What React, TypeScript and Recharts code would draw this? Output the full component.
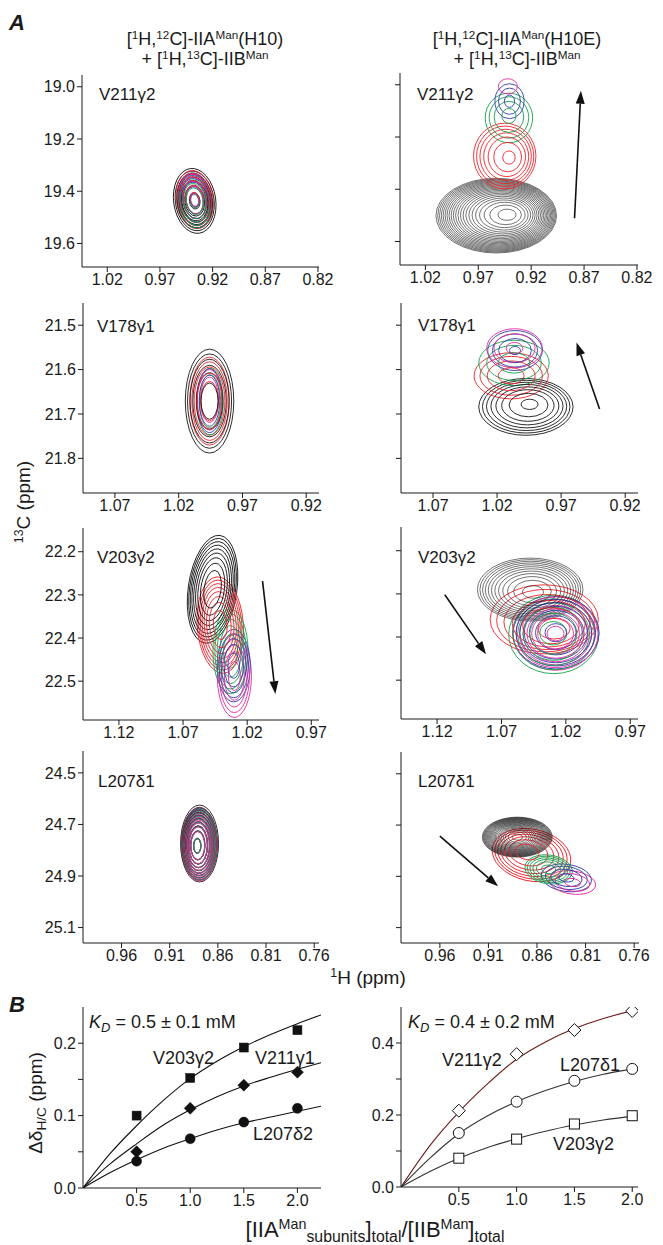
import React from 'react'
import { ComposedChart, XAxis, YAxis, ReferenceArea, ReferenceLine, Line, Scatter } from 'recharts'

const FONT = '"Liberation Sans", Arial, Helvetica, sans-serif'
const INK = '#1a1a1a'
// titration steps: 0, 0.5, 1.0, 1.5, 2.0 equivalents
const STEP_COLORS = ['#151515', '#f0222a', '#15a04c', '#2f3ca8', '#e02a9e']

type Peak = { s: number; h: number; c: number; wh: number; wc: number; n: number; inner?: number; tilt?: number; ch?: number; cc?: number }

// ---- panel A peaks (1H ppm, 13C ppm, half widths, contour count) ----
const V211_H10: Peak[] = [
  { s: 0, h: 0.937, c: 19.437, wh: 0.020, wc: 0.125, n: 7, tilt: -8 },
  { s: 1, h: 0.937, c: 19.432, wh: 0.0175, wc: 0.112, n: 6, tilt: -8 },
  { s: 2, h: 0.937, c: 19.438, wh: 0.0158, wc: 0.103, n: 6, tilt: -8 },
  { s: 3, h: 0.937, c: 19.435, wh: 0.0165, wc: 0.106, n: 6, tilt: -8 },
  { s: 4, h: 0.937, c: 19.433, wh: 0.0148, wc: 0.098, n: 5, tilt: -8 },
]
const V211_H10E: Peak[] = [
  { s: 0, h: 0.953, c: 19.501, wh: 0.057, wc: 0.143, n: 22, inner: 0.15, ch: 0.941, cc: 19.497 },
  { s: 1, h: 0.945, c: 19.273, wh: 0.0295, wc: 0.126, n: 7, inner: 0.2, ch: 0.940, cc: 19.28 },
  { s: 2, h: 0.941, c: 19.127, wh: 0.0224, wc: 0.095, n: 4, inner: 0.3, cc: 19.116 },
  { s: 3, h: 0.9405, c: 19.063, wh: 0.0138, wc: 0.067, n: 3, inner: 0.35 },
  { s: 4, h: 0.942, c: 19.006, wh: 0.009, wc: 0.029, n: 1 },
]
const V178_H10: Peak[] = [
  { s: 0, h: 0.9958, c: 21.671, wh: 0.019, wc: 0.117, n: 6, inner: 0.35 },
  { s: 1, h: 0.9958, c: 21.671, wh: 0.0155, wc: 0.099, n: 5, inner: 0.45 },
  { s: 2, h: 0.9955, c: 21.672, wh: 0.0105, wc: 0.075, n: 2, inner: 0.8 },
  { s: 3, h: 0.9958, c: 21.670, wh: 0.0100, wc: 0.072, n: 2, inner: 0.8 },
  { s: 4, h: 0.9958, c: 21.668, wh: 0.0095, wc: 0.068, n: 2, inner: 0.75 },
]
const V178_H10E: Peak[] = [
  { s: 0, h: 0.9975, c: 21.684, wh: 0.0368, wc: 0.064, n: 8, inner: 0.18, ch: 0.994, cc: 21.677 },
  { s: 1, h: 1.009, c: 21.614, wh: 0.029, wc: 0.052, n: 4, inner: 0.35 },
  { s: 2, h: 1.0068, c: 21.585, wh: 0.0275, wc: 0.051, n: 3, inner: 0.45 },
  { s: 3, h: 1.006, c: 21.557, wh: 0.0213, wc: 0.045, n: 4, inner: 0.2 },
  { s: 4, h: 1.0064, c: 21.552, wh: 0.0217, wc: 0.044, n: 3, inner: 0.3 },
]
const V203_H10: Peak[] = [
  { s: 0, h: 1.047, c: 22.287, wh: 0.019, wc: 0.126, n: 9, inner: 0.35, tilt: 8 },
  { s: 1, h: 1.041, c: 22.370, wh: 0.018, wc: 0.112, n: 8, inner: 0.3, tilt: -4 },
  { s: 2, h: 1.033, c: 22.431, wh: 0.0137, wc: 0.098, n: 5, inner: 0.4 },
  { s: 3, h: 1.0305, c: 22.464, wh: 0.0129, wc: 0.084, n: 5, inner: 0.35 },
  { s: 4, h: 1.030, c: 22.488, wh: 0.0133, wc: 0.096, n: 5, inner: 0.35 },
]
const V203_H10E: Peak[] = [
  { s: 0, h: 1.0477, c: 22.290, wh: 0.041, wc: 0.073, n: 12, inner: 0.2, ch: 1.045, cc: 22.297 },
  { s: 1, h: 1.0368, c: 22.359, wh: 0.042, wc: 0.080, n: 6, inner: 0.3, ch: 1.026, cc: 22.39 },
  { s: 2, h: 1.0294, c: 22.394, wh: 0.035, wc: 0.091, n: 6, inner: 0.3, ch: 1.03, cc: 22.39 },
  { s: 3, h: 1.0278, c: 22.390, wh: 0.0336, wc: 0.084, n: 7, inner: 0.25 },
  { s: 4, h: 1.028, c: 22.392, wh: 0.033, wc: 0.085, n: 8, inner: 0.2 },
]
const L207_H10: Peak[] = [
  { s: 0, h: 0.879, c: 24.774, wh: 0.0197, wc: 0.149, n: 10, inner: 0.2, ch: 0.882, cc: 24.785 },
  { s: 1, h: 0.879, c: 24.776, wh: 0.0185, wc: 0.140, n: 9, inner: 0.2, ch: 0.882, cc: 24.785 },
  { s: 2, h: 0.879, c: 24.778, wh: 0.018, wc: 0.138, n: 9, inner: 0.2, ch: 0.882, cc: 24.785 },
  { s: 3, h: 0.879, c: 24.776, wh: 0.0182, wc: 0.139, n: 9, inner: 0.2, ch: 0.882, cc: 24.785 },
  { s: 4, h: 0.879, c: 24.778, wh: 0.0185, wc: 0.142, n: 10, inner: 0.2, ch: 0.882, cc: 24.785 },
]
const L207_H10E: Peak[] = [
  { s: 0, h: 0.8803, c: 24.747, wh: 0.036, wc: 0.078, n: 22, inner: 0.15 },
  { s: 1, h: 0.8657, c: 24.817, wh: 0.041, wc: 0.101, n: 7, inner: 0.3, tilt: 12, ch: 0.872, cc: 24.80 },
  { s: 2, h: 0.848, c: 24.873, wh: 0.0245, wc: 0.056, n: 6, inner: 0.3, tilt: 8 },
  { s: 3, h: 0.8298, c: 24.906, wh: 0.026, wc: 0.053, n: 4, inner: 0.3, tilt: 8 },
  { s: 4, h: 0.8235, c: 24.924, wh: 0.024, wc: 0.045, n: 3, inner: 0.35, tilt: 8 },
]

// arrows: [1H from, 13C from, 1H to, 13C to]
const ARROW_V211 = [0.879, 19.511, 0.873, 19.023]
const ARROW_V178 = [0.940, 21.689, 0.958, 21.539]
const ARROW_V203_H10 = [1.008, 22.268, 0.998, 22.53]
const ARROW_V203_H10E = [1.114, 22.302, 1.082, 22.44]
const ARROW_L207 = [0.960, 24.743, 0.900, 24.939]

const TICKS_H_1 = [1.02, 0.97, 0.92, 0.87, 0.82]
const TICKS_H_2 = [1.07, 1.02, 0.97, 0.92]
const TICKS_H_3 = [1.12, 1.07, 1.02, 0.97]
const TICKS_H_4 = [0.96, 0.91, 0.86, 0.81, 0.76]
const TICKS_C_1 = [19.0, 19.2, 19.4, 19.6]
const TICKS_C_2 = [21.5, 21.6, 21.7, 21.8]
const TICKS_C_3 = [22.2, 22.3, 22.4, 22.5]
const TICKS_C_4 = [24.5, 24.7, 24.9, 25.1]

// ---- panel B titration ----
const RATIO = [0.5, 1.0, 1.5, 2.0]
const H10_V203 = [0.100, 0.152, 0.194, 0.218]
const H10_V211 = [0.050, 0.110, 0.142, 0.160]
const H10_L207 = [0.037, 0.068, 0.091, 0.110]
const FIT_X_H10 = [0, 0.25, 0.5, 0.75, 1.0, 1.25, 1.5, 1.75, 2.0, 2.22]
const FIT_H10_V203 = [0, 0.047, 0.086, 0.121, 0.151, 0.175, 0.195, 0.212, 0.227, 0.239]
const FIT_H10_V211 = [0, 0.033, 0.061, 0.087, 0.108, 0.126, 0.141, 0.153, 0.164, 0.173]
const FIT_H10_L207 = [0, 0.021, 0.039, 0.055, 0.068, 0.080, 0.090, 0.098, 0.106, 0.113]

const H10E_V211 = [0.212, 0.369, 0.436, 0.489]
const H10E_L207 = [0.150, 0.237, 0.295, 0.328]
const H10E_V203 = [0.080, 0.133, 0.175, 0.198]
const FIT_X_H10E = [0, 0.25, 0.5, 0.75, 1.0, 1.25, 1.5, 1.75, 2.0, 2.05]
const FIT_H10E_V211 = [0, 0.115, 0.208, 0.287, 0.355, 0.403, 0.440, 0.468, 0.489, 0.492]
const FIT_H10E_L207 = [0, 0.080, 0.148, 0.198, 0.237, 0.268, 0.293, 0.313, 0.328, 0.331]
const FIT_H10E_V203 = [0, 0.043, 0.080, 0.110, 0.134, 0.155, 0.172, 0.186, 0.197, 0.199]

const zip = (xs: number[], ys: number[]) => xs.map((x, i) => ({ x, y: ys[i] }))

type Level = { h: number; c: number; wh: number; wc: number; s: number; tilt: number; sw: number }

function levels(p: Peak): Level[] {
  const inner = p.inner ?? 0.25
  const ch = p.ch ?? p.h, cc = p.cc ?? p.c
  const out: Level[] = []
  for (let k = 0; k < p.n; k++) {
    const f = p.n === 1 ? 1 : Math.sqrt(1 - (k / (p.n - 1)) * (1 - inner * inner))
    out.push({ h: ch + f * (p.h - ch), c: cc + f * (p.c - cc), wh: p.wh * f, wc: p.wc * f, s: p.s, tilt: p.tilt ?? 0, sw: p.n >= 12 ? 0.6 : 0.9 })
  }
  return out
}

// draw every contour, largest first, so nested colours interleave like the spectrum overlay
function allRings(peaks: Peak[]) {
  return peaks.flatMap(levels).sort((a, b) => b.wh * b.wc - a.wh * a.wc)
}

const ring = (tilt: number, color: string, sw: number) => (p: any) => {
  const cx = p.x + p.width / 2, cy = p.y + p.height / 2
  return (
    <g clipPath={p.clipPath}>
      <ellipse cx={cx} cy={cy} rx={Math.abs(p.width) / 2} ry={Math.abs(p.height) / 2} fill="none"
        stroke={color} strokeWidth={sw} transform={`rotate(${tilt} ${cx} ${cy})`} />
    </g>
  )
}

const arrowShape = (p: any) => {
  const { x1, y1, x2, y2 } = p
  const dx = x2 - x1, dy = y2 - y1, len = Math.hypot(dx, dy) || 1
  const ux = dx / len, uy = dy / len
  const hl = 13, hw = 4.5
  const bx = x2 - ux * hl, by = y2 - uy * hl
  return (
    <g>
      <line x1={x1} y1={y1} x2={bx} y2={by} stroke="#111" strokeWidth={1.6} />
      <polygon points={`${x2},${y2} ${bx - uy * hw},${by + ux * hw} ${bx + uy * hw},${by - ux * hw}`} fill="#111" />
    </g>
  )
}

const YW = 50, MT = 8, MR = 20, XH = 30
const tickStyle = { fontSize: 16, fill: INK }

function FrameAxes() {
  return [
    <XAxis key="ft" xAxisId="top" orientation="top" type="number" domain={[0, 1]} height={0} tick={false} tickLine={false} stroke={INK} />,
    <YAxis key="fr" yAxisId="right" orientation="right" type="number" domain={[0, 1]} width={0} tick={false} tickLine={false} stroke={INK} />,
  ]
}

interface NmrProps {
  frame: number[]
  xDomain: number[]
  yDomain: number[]
  xTicks: number[]
  yTicks: number[]
  peaks: Peak[]
  arrow?: number[]
  yLabels?: boolean
}

function NmrPanel({ frame, xDomain, yDomain, xTicks, yTicks, peaks, arrow, yLabels }: NmrProps) {
  const [fx, fy, fw, fh] = frame
  return (
    <div style={{ position: 'absolute', left: fx - YW, top: fy - MT }}>
      <ComposedChart width={YW + fw + MR} height={MT + fh + XH} margin={{ top: MT, right: MR, bottom: 0, left: 0 }}>
        <XAxis type="number" dataKey="h" domain={xDomain} reversed ticks={xTicks} interval={0} allowDataOverflow
          tickFormatter={(v: number) => v.toFixed(2)} height={XH} tickSize={5} tick={tickStyle} stroke={INK} />
        <YAxis type="number" dataKey="c" domain={yDomain} reversed ticks={yTicks} interval={0} allowDataOverflow
          tickFormatter={(v: number) => (yLabels ? v.toFixed(1) : '')} width={YW} tickSize={5} tick={tickStyle} stroke={INK} />
        {FrameAxes()}
        {allRings(peaks).map((lv, k) => (
          <ReferenceArea key={k} x1={lv.h - lv.wh} x2={lv.h + lv.wh} y1={lv.c - lv.wc} y2={lv.c + lv.wc}
            ifOverflow="hidden" shape={ring(lv.tilt, STEP_COLORS[lv.s], lv.sw)} />
        ))}
        {arrow && (
          <ReferenceLine segment={[{ x: arrow[0], y: arrow[1] }, { x: arrow[2], y: arrow[3] }]} ifOverflow="visible" shape={arrowShape} />
        )}
      </ComposedChart>
    </div>
  )
}

const marker = (kind: string, open: boolean) => (p: any) => {
  const { cx, cy } = p
  const st = { fill: open ? '#fff' : '#111', stroke: '#111', strokeWidth: open ? 1 : 0.5 }
  if (kind === 'square') {
    const s = open ? 5 : 4.5
    return <rect x={cx - s} y={cy - s} width={2 * s} height={2 * s} {...st} />
  }
  if (kind === 'diamond') {
    const s = open ? 6.5 : 6
    return <polygon points={`${cx},${cy - s} ${cx + s},${cy} ${cx},${cy + s} ${cx - s},${cy}`} {...st} />
  }
  return <circle cx={cx} cy={cy} r={open ? 5.5 : 5} {...st} />
}

interface Curve { fit: { x: number; y: number }[]; pts: { x: number; y: number }[]; kind: string; color: string }

function BindPanel({ frame, xMax, yMax, yTicks, major, curves, open }: { frame: number[]; xMax: number; yMax: number; yTicks: number[]; major: number; curves: Curve[]; open: boolean }) {
  const [fx, fy, fw, fh] = frame
  return (
    <div style={{ position: 'absolute', left: fx - YW, top: fy - MT }}>
      <ComposedChart width={YW + fw + MR} height={MT + fh + XH} margin={{ top: MT, right: MR, bottom: 0, left: 0 }}>
        <XAxis type="number" dataKey="x" domain={[0, xMax]} ticks={RATIO} interval={0} allowDataOverflow
          tickFormatter={(v: number) => v.toFixed(1)} height={XH} tickSize={5} tick={tickStyle} stroke={INK} />
        <YAxis type="number" dataKey="y" domain={[0, yMax]} ticks={yTicks} interval={0} allowDataOverflow
          tickFormatter={(v: number) => (Math.abs(Math.round(v * 100)) % Math.round(major * 100) === 0 ? v.toFixed(1) : '')}
          width={YW} tickSize={5} tick={tickStyle} stroke={INK} />
        {FrameAxes()}
        {curves.map((c, i) => (
          <Line key={`l${i}`} data={c.fit} dataKey="y" type="monotone" stroke={c.color} strokeWidth={1.1} dot={false}
            isAnimationActive={false} />
        ))}
        {curves.map((c, i) => (
          <Scatter key={`s${i}`} data={c.pts} dataKey="y" shape={marker(c.kind, open)} isAnimationActive={false} />
        ))}
      </ComposedChart>
    </div>
  )
}

const Sup = ({ children }: { children: React.ReactNode }) => (
  <span style={{ fontSize: '0.65em', position: 'relative', top: '-0.55em' }}>{children}</span>
)
const Sub = ({ children }: { children: React.ReactNode }) => (
  <span style={{ fontSize: '0.72em', position: 'relative', top: '0.32em' }}>{children}</span>
)

function Txt({ x, y, size = 17, children, style }: { x: number; y: number; size?: number; children: React.ReactNode; style?: React.CSSProperties }) {
  return (
    <div style={{ position: 'absolute', left: x, top: y, fontSize: size, lineHeight: `${size}px`, whiteSpace: 'nowrap', color: INK, ...style }}>
      {children}
    </div>
  )
}

function Header({ cx, suffix }: { cx: number; suffix: string }) {
  return (
    <div style={{ position: 'absolute', left: cx - 150, top: 30, width: 300, textAlign: 'center', fontSize: 18, lineHeight: '19px', color: INK }}>
      <div>[<Sup>1</Sup>H,<Sup>12</Sup>C]-IIA<Sup>Man</Sup>({suffix})</div>
      <div>+ [<Sup>1</Sup>H,<Sup>13</Sup>C]-IIB<Sup>Man</Sup></div>
    </div>
  )
}

export default function App() {
  const leftB: Curve[] = [
    { fit: zip(FIT_X_H10, FIT_H10_V203), pts: zip(RATIO, H10_V203), kind: 'square', color: '#111' },
    { fit: zip(FIT_X_H10, FIT_H10_V211), pts: zip(RATIO, H10_V211), kind: 'diamond', color: '#111' },
    { fit: zip(FIT_X_H10, FIT_H10_L207), pts: zip(RATIO, H10_L207), kind: 'circle', color: '#111' },
  ]
  const rightB: Curve[] = [
    { fit: zip(FIT_X_H10E, FIT_H10E_V211), pts: zip(RATIO, H10E_V211), kind: 'diamond', color: '#6e1a1a' },
    { fit: zip(FIT_X_H10E, FIT_H10E_L207), pts: zip(RATIO, H10E_L207), kind: 'circle', color: '#333' },
    { fit: zip(FIT_X_H10E, FIT_H10E_V203), pts: zip(RATIO, H10E_V203), kind: 'square', color: '#333' },
  ]
  return (
    <div style={{ position: 'absolute', left: 0, top: 0, width: 663, height: 1245, background: '#fff', fontFamily: FONT, color: INK, overflow: 'hidden' }}>
      <Txt x={9} y={12} size={22} style={{ fontWeight: 'bold', fontStyle: 'italic' }}>A</Txt>
      <Header cx={205} suffix="H10" />
      <Header cx={517} suffix="H10E" />

      <NmrPanel frame={[82, 75, 237, 192]} xDomain={[0.819, 1.044]} yDomain={[18.955, 19.69]} xTicks={TICKS_H_1} yTicks={TICKS_C_1} peaks={V211_H10} yLabels />
      <NmrPanel frame={[400, 73, 238, 192]} xDomain={[0.819, 1.044]} yDomain={[18.955, 19.69]} xTicks={TICKS_H_1} yTicks={TICKS_C_1} peaks={V211_H10E} arrow={ARROW_V211} />
      <NmrPanel frame={[83, 303, 236, 190]} xDomain={[0.910, 1.095]} yDomain={[21.45, 21.878]} xTicks={TICKS_H_2} yTicks={TICKS_C_2} peaks={V178_H10} yLabels />
      <NmrPanel frame={[401, 303, 237, 190]} xDomain={[0.910, 1.095]} yDomain={[21.45, 21.878]} xTicks={TICKS_H_2} yTicks={TICKS_C_2} peaks={V178_H10E} arrow={ARROW_V178} />
      <NmrPanel frame={[83, 528, 236, 192]} xDomain={[0.964, 1.148]} yDomain={[22.145, 22.59]} xTicks={TICKS_H_3} yTicks={TICKS_C_3} peaks={V203_H10} arrow={ARROW_V203_H10} yLabels />
      <NmrPanel frame={[401, 527, 237, 192]} xDomain={[0.964, 1.148]} yDomain={[22.145, 22.59]} xTicks={TICKS_H_3} yTicks={TICKS_C_3} peaks={V203_H10E} arrow={ARROW_V203_H10E} />
      <NmrPanel frame={[83, 751, 236, 192]} xDomain={[0.755, 1.0]} yDomain={[24.415, 25.16]} xTicks={TICKS_H_4} yTicks={TICKS_C_4} peaks={L207_H10} yLabels />
      <NmrPanel frame={[401, 752, 238, 191]} xDomain={[0.755, 1.0]} yDomain={[24.415, 25.16]} xTicks={TICKS_H_4} yTicks={TICKS_C_4} peaks={L207_H10E} arrow={ARROW_L207} />

      <Txt x={99} y={86}>V211γ2</Txt>
      <Txt x={417} y={86}>V211γ2</Txt>
      <Txt x={97} y={318}>V178γ1</Txt>
      <Txt x={418} y={317}>V178γ1</Txt>
      <Txt x={97} y={549}>V203γ2</Txt>
      <Txt x={418} y={549}>V203γ2</Txt>
      <Txt x={98} y={773}>L207δ1</Txt>
      <Txt x={418} y={773}>L207δ1</Txt>

      <div style={{ position: 'absolute', left: 24, top: 502, transform: 'translate(-50%, -50%) rotate(-90deg)', fontSize: 19, whiteSpace: 'nowrap' }}>
        <Sup>13</Sup>C (ppm)
      </div>
      <div style={{ position: 'absolute', left: 368, top: 978, transform: 'translate(-50%, -50%)', fontSize: 19, whiteSpace: 'nowrap' }}>
        <Sup>1</Sup>H (ppm)
      </div>

      <Txt x={9} y={994} size={22} style={{ fontWeight: 'bold', fontStyle: 'italic' }}>B</Txt>
      <BindPanel frame={[83, 1007, 238, 181]} xMax={2.22} yMax={0.25} yTicks={[0, 0.05, 0.1, 0.15, 0.2]} major={0.1} curves={leftB} open={false} />
      <BindPanel frame={[401, 1007, 237, 180]} xMax={2.05} yMax={0.5} yTicks={[0, 0.1, 0.2, 0.3, 0.4]} major={0.2} curves={rightB} open />

      <Txt x={89} y={1013} size={18}><i>K<Sub>D</Sub></i> = 0.5 ± 0.1 mM</Txt>
      <Txt x={408} y={1013} size={18}><i>K<Sub>D</Sub></i> = 0.4 ± 0.2 mM</Txt>
      <Txt x={153} y={1049} size={18}>V203γ2</Txt>
      <Txt x={255} y={1049} size={18}>V211γ1</Txt>
      <Txt x={253} y={1125} size={18}>L207δ2</Txt>
      <Txt x={442} y={1051} size={18}>V211γ2</Txt>
      <Txt x={560} y={1056} size={18}>L207δ1</Txt>
      <Txt x={553} y={1135} size={18}>V203γ2</Txt>

      <div style={{ position: 'absolute', left: 36, top: 1103, transform: 'translate(-50%, -50%) rotate(-90deg)', fontSize: 19, whiteSpace: 'nowrap' }}>
        Δδ<Sub>H/C</Sub> (ppm)
      </div>
      <div style={{ position: 'absolute', left: 375, top: 1230, transform: 'translate(-50%, -50%)', fontSize: 22, whiteSpace: 'nowrap' }}>
        [IIA<Sup>Man</Sup><Sub>subunits</Sub>]<Sub>total</Sub>/[IIB<Sup>Man</Sup>]<Sub>total</Sub>
      </div>
    </div>
  )
}
